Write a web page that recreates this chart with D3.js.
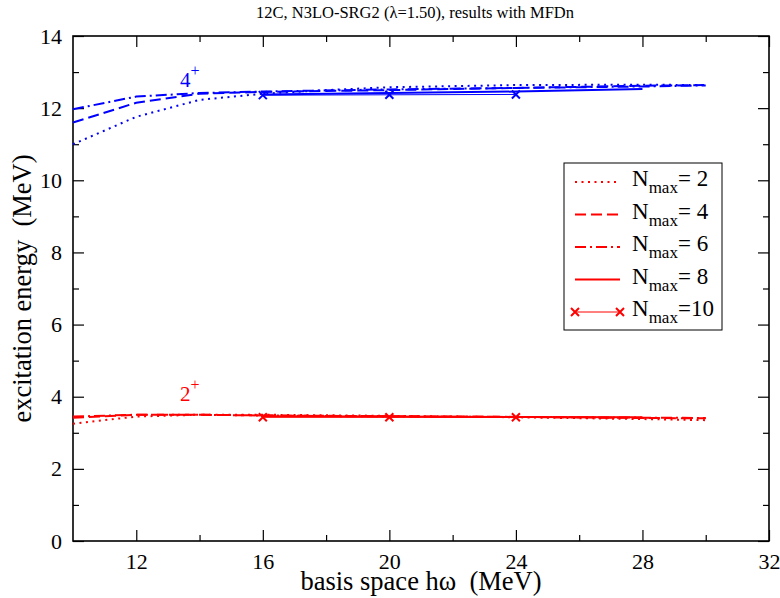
<!DOCTYPE html>
<html>
<head>
<meta charset="utf-8">
<script src="https://cdn.jsdelivr.net/npm/d3@7"></script>
<style>
  html, body { margin: 0; padding: 0; background: #fff; }
  svg text, svg tspan { font-family: "Liberation Serif", "Times New Roman", serif !important; white-space: pre; }
</style>
</head>
<body>
<svg id="chart" width="780" height="598" font-family="Liberation Serif"></svg>
<script>
// Excitation energies (MeV) of the 2+ and 4+ states of 12C vs. oscillator energy hω
const nmaxLabels = ["2", "4", "6", "8", "10"];
const dashes = ["2,4.5", "11,5", "11,4,2,4", null, null];

// 4+ state, one array per Nmax
const hw4_n2 = [10, 12, 14, 16, 18, 20, 24, 28, 30];
const e4_n2 = [11.0, 11.76, 12.23, 12.4, 12.5, 12.58, 12.64, 12.65, 12.64];
const hw4_n4 = [10, 12, 14, 16, 20, 24, 28, 30];
const e4_n4 = [11.6, 12.15, 12.4, 12.45, 12.5, 12.56, 12.62, 12.64];
const hw4_n6 = [10, 12, 14, 16, 20, 24, 28, 30];
const e4_n6 = [11.97, 12.32, 12.42, 12.46, 12.52, 12.56, 12.6, 12.63];
const hw4_n8 = [16, 20, 24, 28];
const e4_n8 = [12.38, 12.42, 12.46, 12.53];
const hw4_n10 = [16, 20, 24];
const e4_n10 = [12.36, 12.37, 12.38];

// 2+ state
const hw2_n2 = [10, 12, 14, 16, 20, 24, 28, 30];
const e2_n2 = [3.25, 3.45, 3.5, 3.5, 3.47, 3.43, 3.38, 3.35];
const hw2_n4 = [10, 12, 14, 16, 20, 24, 28, 30];
const e2_n4 = [3.42, 3.5, 3.5, 3.48, 3.46, 3.44, 3.41, 3.4];
const hw2_n6 = [10, 12, 14, 16, 20, 24, 28, 30];
const e2_n6 = [3.45, 3.5, 3.5, 3.48, 3.45, 3.44, 3.42, 3.41];
const hw2_n8 = [16, 20, 24, 28];
const e2_n8 = [3.46, 3.45, 3.44, 3.43];
const hw2_n10 = [16, 20, 24];
const e2_n10 = [3.43, 3.43, 3.43];

const xMajor = [12, 16, 20, 24, 28, 32];
const xMinor = [14, 18, 22, 26, 30];
const yMajor = [0, 2, 4, 6, 8, 10, 12, 14];
const yMinor = [1, 3, 5, 7, 9, 11, 13];

const titleText = "12C, N3LO-SRG2 (\u03bb=1.50), results with MFDn";
const xTitle = "basis space h\u03c9  (MeV)";
const yTitle = "excitation energy  (MeV)";

const blue = "#0000ff", red = "#ff0000";
const serif = "'Liberation Serif', 'Times New Roman', serif";

const svg = d3.select("#chart");
const L = 73, R = 769, T = 36, B = 541;
const x = d3.scaleLinear().domain([10, 32]).range([L, R]);
const y = d3.scaleLinear().domain([0, 14]).range([B, T]);

// Title
svg.append("text").attr("x", 415).attr("y", 18).attr("text-anchor", "middle")
  .style("font-family", serif).attr("font-size", 16.5).text(titleText);

// Axes with inward ticks on all four sides
const major = 11, minor = 6;
function axisGroup(axis, tx, ty) {
  const g = svg.append("g").attr("transform", `translate(${tx},${ty})`).call(axis)
    .attr("font-family", serif);
  g.select(".domain").remove();
  g.selectAll("line").attr("stroke", "#000").attr("stroke-width", 1.2);
  g.selectAll("text").attr("font-size", 22).attr("fill", "#000").style("font-family", serif);
  return g;
}
// bottom
axisGroup(d3.axisBottom(x).tickValues(xMajor).tickSize(-major).tickPadding(12)
  .tickFormat(d3.format("d")), 0, B);
axisGroup(d3.axisBottom(x).tickValues(xMinor).tickSize(-minor).tickFormat(""), 0, B);
// top
axisGroup(d3.axisTop(x).tickValues(xMajor).tickSize(-major).tickFormat(""), 0, T);
axisGroup(d3.axisTop(x).tickValues(xMinor).tickSize(-minor).tickFormat(""), 0, T);
// left
axisGroup(d3.axisLeft(y).tickValues(yMajor).tickSize(-major).tickPadding(11)
  .tickFormat(d3.format("d")), L, 0);
axisGroup(d3.axisLeft(y).tickValues(yMinor).tickSize(-minor).tickFormat(""), L, 0);
// right
axisGroup(d3.axisRight(y).tickValues(yMajor).tickSize(-major).tickFormat(""), R, 0);
axisGroup(d3.axisRight(y).tickValues(yMinor).tickSize(-minor).tickFormat(""), R, 0);

// frame
svg.append("rect").attr("x", L).attr("y", T).attr("width", R - L).attr("height", B - T)
  .attr("fill", "none").attr("stroke", "#000").attr("stroke-width", 1.6);

// axis titles
svg.append("text").attr("x", (L + R) / 2).attr("y", 590).attr("text-anchor", "middle")
  .style("font-family", serif).attr("font-size", 26.5).text(xTitle);
svg.append("text").attr("transform", `translate(31,${(T + B) / 2}) rotate(-90)`)
  .attr("text-anchor", "middle").style("font-family", serif).attr("font-size", 26.5).text(yTitle);

const line = d3.line().x(d => x(d[0])).y(d => y(d[1]));
const zip = (a, b) => a.map((v, i) => [v, b[i]]);

function cross(g, cx, cy, color, s, w) {
  g.append("path")
    .attr("d", `M${cx - s},${cy - s}L${cx + s},${cy + s}M${cx - s},${cy + s}L${cx + s},${cy - s}`)
    .attr("stroke", color).attr("stroke-width", w).attr("fill", "none");
}

function drawState(sets, color) {
  const g = svg.append("g");
  sets.forEach((s, i) => {
    const pts = zip(s[0], s[1]);
    const p = g.append("path").attr("d", line(pts)).attr("fill", "none")
      .attr("stroke", color).attr("stroke-width", i === 4 ? 1 : 2);
    if (dashes[i]) p.attr("stroke-dasharray", dashes[i]);
    if (i === 4) pts.forEach(d => cross(g, x(d[0]), y(d[1]), color, 4, 2));
  });
}
drawState([[hw4_n2, e4_n2], [hw4_n4, e4_n4], [hw4_n6, e4_n6], [hw4_n8, e4_n8], [hw4_n10, e4_n10]], blue);
drawState([[hw2_n2, e2_n2], [hw2_n4, e2_n4], [hw2_n6, e2_n6], [hw2_n8, e2_n8], [hw2_n10, e2_n10]], red);

// state labels
function stateLabel(hw, e, main, color) {
  const t = svg.append("text").attr("x", x(hw)).attr("y", y(e)).attr("fill", color)
    .style("font-family", serif).attr("font-size", 21);
  t.append("tspan").text(main);
  t.append("tspan").attr("dy", -11).attr("font-size", 16).text("+");
}
stateLabel(13.38, 12.59, "4", blue);
stateLabel(13.38, 3.88, "2", red);

// legend
const lg = svg.append("g");
lg.append("rect").attr("x", 564).attr("y", 163).attr("width", 158).attr("height", 167)
  .attr("fill", "#fff").attr("stroke", "#000").attr("stroke-width", 1);
const rowY = d3.scalePoint().domain(nmaxLabels).range([182, 312]);
nmaxLabels.forEach((n, i) => {
  const yy = rowY(n);
  const l = lg.append("line").attr("x1", 575).attr("x2", 620).attr("y1", yy).attr("y2", yy)
    .attr("stroke", red).attr("stroke-width", i === 4 ? 1 : 2);
  if (dashes[i]) l.attr("stroke-dasharray", dashes[i]);
  if (i === 4) { cross(lg, 575, yy, red, 4, 2); cross(lg, 620, yy, red, 4, 2); }
  const t = lg.append("text").attr("x", 632).attr("y", yy + 4).attr("font-size", 23)
    .style("font-family", serif);
  t.append("tspan").text("N");
  t.append("tspan").attr("dy", 7).attr("font-size", 17).text("max");
  t.append("tspan").attr("dy", -7).text(i === 4 ? "=10" : "= " + n);
});
</script>
</body>
</html>
